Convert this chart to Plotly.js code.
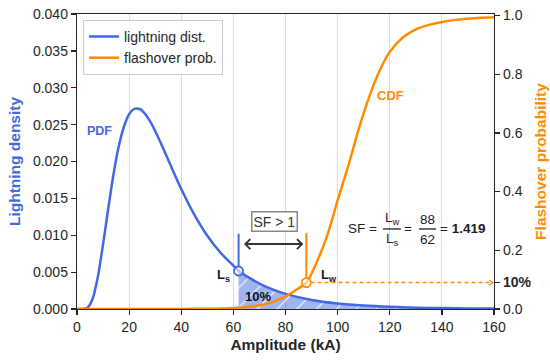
<!DOCTYPE html>
<html>
<head>
<meta charset="utf-8">
<script src="https://cdn.plot.ly/plotly-3.0.1.min.js"></script>
<style>html,body{margin:0;padding:0;background:#fff;}#chart{width:550px;height:363px;}</style>
</head>
<body>
<div id="chart"></div>
<script>
// ---- data ----
const amplitude = [0,2,4,6,8,10,12,14,16,18,20,22,24,26,28,30,33,36,40,45,50,55,60,62,65,70,75,80,90,100,110,120,130,140,150,160];
const lightningDensity = [0,0.0000015,0.000177,0.00140,0.00436,0.00876,0.01364,0.01823,0.02202,0.02471,0.02641,0.02714,0.02712,0.02651,0.02547,0.02413,0.02184,0.01941,0.01628,0.01281,0.00994,0.00766,0.00588,0.00515,0.00445,0.00345,0.00266,0.00205,0.00123,0.000752,0.000466,0.000293,0.000186,0.000121,0.0000793,0.0000529];

const cdfAmplitude = [0,20,40,50,60,65,70,75,80,84,88,92,96,100,104,108,112,116,120,125,130,135,140,145,150,155,160];
const flashoverProb = [0,0.0001,0.0003,0.001,0.0037,0.0068,0.0125,0.0235,0.043,0.065,0.09,0.16,0.25,0.37,0.485,0.61,0.72,0.81,0.876,0.925,0.953,0.968,0.978,0.985,0.989,0.992,0.994];

const xTicks = [0,20,40,60,80,100,120,140,160];
const yTicks = [0,0.005,0.010,0.015,0.020,0.025,0.030,0.035,0.040];
const y2Ticks = [0,0.09,0.2,0.4,0.6,0.8,1.0];
const y2TickText = ['0.0','<b>10%</b>','0.2','0.4','0.6','0.8','1.0'];

const Ls = 62, Lw = 88;
const shareLabel = '10%';
const sfValue = '1.419';

// ---- derived ----
const lsIdx = amplitude.indexOf(Ls);
const lsDensity = lightningDensity[lsIdx];
const lwProb = flashoverProb[cdfAmplitude.indexOf(Lw)];
const tailX = amplitude.filter(a => a >= Ls);
const tailY = lightningDensity.filter((v, i) => amplitude[i] >= Ls);

const BLUE = '#4169e1', ORANGE = '#ff8c00', DARK = '#262626';
const FONT = 'Liberation Sans, Arial, Helvetica, sans-serif';

const traces = [
  {x: tailX, y: tailY, type: 'scatter', mode: 'none', fill: 'tozeroy',
   fillcolor: 'rgba(65,105,225,0.5)',
   fillpattern: {shape: '/', bgcolor: 'rgba(65,105,225,0.5)', fgcolor: 'rgba(255,255,255,0.9)', size: 14, solidity: 0.08},
   line: {shape: 'spline'}, showlegend: false, hoverinfo: 'skip'},
  {x: amplitude, y: lightningDensity, type: 'scatter', mode: 'lines', name: 'lightning dist.',
   line: {color: BLUE, width: 2.5, shape: 'spline', smoothing: 0.8}},
  {x: [Ls], y: [lsDensity], type: 'scatter', mode: 'markers', showlegend: false,
   marker: {symbol: 'circle', size: 9, color: 'rgba(255,255,255,0.6)', line: {color: BLUE, width: 1.8}}},
  {x: cdfAmplitude, y: flashoverProb, type: 'scatter', mode: 'lines', name: 'flashover prob.', yaxis: 'y2',
   line: {color: ORANGE, width: 2.5, shape: 'spline', smoothing: 0.8}},
  {x: [Lw], y: [lwProb], type: 'scatter', mode: 'markers', showlegend: false, yaxis: 'y2',
   marker: {symbol: 'circle', size: 9, color: 'rgba(255,255,255,0.6)', line: {color: ORANGE, width: 1.8}}}
];

// arrow geometry (annotation decoration)
const arrY = 0.0088, arrX0 = 64.6, arrX1 = 86.3, chx = 1.9, chy = 0.00068;
const dashEnd = 159.6, dchx = 1.5, dchy = 0.009;
const blueTop = 0.0102, orangeTop = 0.259;
const fracY = 0.01085;

const shapes = [
  {type: 'line', xref: 'x', yref: 'y', x0: Ls, x1: Ls, y0: lsDensity + 0.0006, y1: blueTop, line: {color: BLUE, width: 2}},
  {type: 'line', xref: 'x', yref: 'y2', x0: Lw, x1: Lw, y0: lwProb + 0.015, y1: orangeTop, line: {color: ORANGE, width: 2}},
  {type: 'line', xref: 'x', yref: 'y', x0: arrX0 + 0.3, x1: arrX1 - 0.3, y0: arrY, y1: arrY, line: {color: '#333', width: 2}},
  {type: 'path', xref: 'x', yref: 'y', path: `M ${arrX0+chx} ${arrY+chy} L ${arrX0} ${arrY} L ${arrX0+chx} ${arrY-chy}`, line: {color: '#333', width: 2}},
  {type: 'path', xref: 'x', yref: 'y', path: `M ${arrX1-chx} ${arrY+chy} L ${arrX1} ${arrY} L ${arrX1-chx} ${arrY-chy}`, line: {color: '#333', width: 2}},
  {type: 'line', xref: 'x', yref: 'y2', x0: Lw + 1.6, x1: dashEnd, y0: lwProb, y1: lwProb, line: {color: ORANGE, width: 1.5, dash: '4px,3px'}},
  {type: 'path', xref: 'x', yref: 'y2', path: `M ${dashEnd-dchx} ${lwProb+dchy} L ${dashEnd} ${lwProb} L ${dashEnd-dchx} ${lwProb-dchy}`, line: {color: ORANGE, width: 1.3}},
  {type: 'line', xref: 'x', yref: 'y', x0: 117.4, x1: 124.3, y0: fracY, y1: fracY, line: {color: '#222', width: 1.3}},
  {type: 'line', xref: 'x', yref: 'y', x0: 131.2, x1: 137.8, y0: fracY, y1: fracY, line: {color: '#222', width: 1.3}}
];

function ann(x, y, text, opts) {
  return Object.assign({x: x, y: y, xref: 'x', yref: 'y', text: text, showarrow: false,
    xanchor: 'center', yanchor: 'middle', font: {family: FONT, size: 14, color: '#222'}}, opts || {});
}

const annotations = [
  ann(8.8, 0.0241, '<b>PDF</b>', {font: {family: FONT, size: 12.5, color: BLUE}}),
  ann(120.4, 0.729, '<b>CDF</b>', {yref: 'y2', font: {family: FONT, size: 13, color: ORANGE}}),
  ann(69.6, 0.00167, '<b>' + shareLabel + '</b>', {font: {family: FONT, size: 13, color: '#111'}}),
  ann(59.3, 0.0046, '<b>L<sub>s</sub></b>', {xanchor: 'right', font: {family: FONT, size: 13, color: '#222'}}),
  ann(93.0, 0.0045, '<b>L<sub>w</sub></b>', {xanchor: 'left', font: {family: FONT, size: 13, color: '#222'}}),
  ann(75.8, 0.01193, 'SF &gt; 1', {font: {family: FONT, size: 14, color: '#333'}, bordercolor: '#888', borderwidth: 1.5, borderpad: 1, bgcolor: '#fff'}),
  ann(109.4, 0.01098, 'SF =', {font: {family: FONT, size: 13.5, color: '#222'}}),
  ann(120.9, 0.0123, 'L<sub>w</sub>', {font: {family: FONT, size: 13.5, color: '#222'}}),
  ann(120.9, 0.0094, 'L<sub>s</sub>', {font: {family: FONT, size: 13.5, color: '#222'}}),
  ann(127.0, 0.01098, '=', {font: {family: FONT, size: 13.5, color: '#222'}}),
  ann(134.5, 0.0122, String(Lw), {font: {family: FONT, size: 13.5, color: '#222'}}),
  ann(134.5, 0.0094, String(Ls), {font: {family: FONT, size: 13.5, color: '#222'}}),
  ann(148.1, 0.01098, '= <b>' + sfValue + '</b>', {font: {family: FONT, size: 13.5, color: '#222'}})
];

const axisCommon = {
  showline: true, linecolor: DARK, linewidth: 1.25, ticks: 'outside', ticklen: 5, tickwidth: 1.25,
  tickcolor: DARK, tickfont: {family: FONT, size: 14, color: DARK}, zeroline: false
};

const layout = {
  width: 550, height: 363,
  margin: {l: 77, r: 56, t: 14, b: 54, pad: 0},
  paper_bgcolor: '#fff', plot_bgcolor: '#fff',
  font: {family: FONT, color: DARK},
  showlegend: true,
  legend: {x: 0.0144, y: 0.98, xanchor: 'left', yanchor: 'top', bgcolor: 'rgba(255,255,255,0.85)',
    bordercolor: '#cccccc', borderwidth: 1, font: {family: FONT, size: 14, color: DARK}, itemwidth: 30},
  xaxis: Object.assign({}, axisCommon, {range: [0, 160], tickmode: 'array', tickvals: xTicks, mirror: true,
    showgrid: true, gridcolor: '#dcdcdc', gridwidth: 1,
    title: {text: '<b>Amplitude (kA)</b>', font: {family: FONT, size: 15.5, color: DARK}, standoff: 5}}),
  yaxis: Object.assign({}, axisCommon, {range: [0, 0.04], tickmode: 'array', tickvals: yTicks, tickformat: '.3f',
    showgrid: false,
    title: {text: '<b>Lightning density</b>', font: {family: FONT, size: 15.5, color: BLUE}, standoff: 8}}),
  yaxis2: Object.assign({}, axisCommon, {overlaying: 'y', side: 'right', range: [0, 1.005], tickmode: 'array',
    tickvals: y2Ticks, ticktext: y2TickText.map(t => '<span>' + t + '</span>'), tickformat: '.1f', showgrid: false,
    title: {text: '<b>Flashover probability</b>', font: {family: FONT, size: 15.5, color: ORANGE}, standoff: 4}}),
  shapes: shapes,
  annotations: annotations
};

Plotly.newPlot('chart', traces, layout, {displayModeBar: false, staticPlot: true});
</script>
</body>
</html>
